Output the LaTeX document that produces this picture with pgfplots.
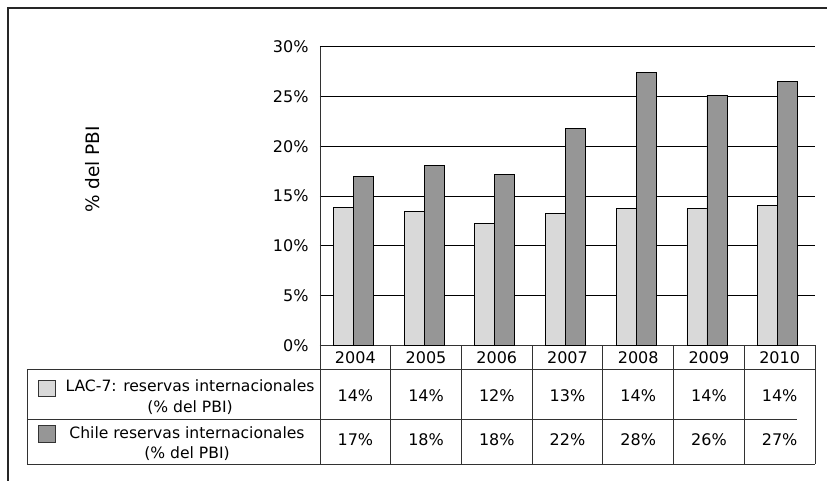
\documentclass[border=0pt]{standalone}
\usepackage{fontspec}
\setmainfont{DejaVu Sans}
\usepackage{pgfplots}
\pgfplotsset{compat=1.18}
\definecolor{lightbar}{RGB}{217,217,217}
\definecolor{darkbar}{RGB}{150,150,150}
\definecolor{tline}{RGB}{50,50,50}
\begin{document}
\begin{tikzpicture}[font=\fontsize{15.6}{20.7}\selectfont]
\path[use as bounding box] (-320pt,-135.7pt) rectangle (507pt,345.3pt);
\draw[line width=1.3pt, black!85] (-312pt,-140pt) -- (-312pt,337.3pt) -- (510pt,337.3pt);
\begin{axis}[
  scale only axis, width=495pt, height=298.6pt,
  xmin=-0.5, xmax=6.5, ymin=0, ymax=30,
  ybar=0pt, bar width=20pt,
  xtick={0,...,6}, xticklabels={2004,2005,2006,2007,2008,2009,2010},
  ytick={0,5,...,30},
  yticklabel={\pgfmathprintnumber{\tick}\%},
  /pgf/number format/assume math mode=true,
  tick label style={font=\fontsize{16}{19}\selectfont},
  ymajorgrids, grid style={black, line width=0.8pt},
  axis x line*=bottom, axis y line*=left,
  axis line style={tline, line width=0.8pt, -},
  major tick length=0pt,
  xticklabel style={anchor=center, yshift=-12pt},
  yticklabel style={xshift=-8pt},
  clip=false,
]
\addplot[fill=lightbar, draw=black, line width=0.7pt, bar shift=-12pt] coordinates {(0,13.86) (1,13.45) (2,12.25) (3,13.25) (4,13.75) (5,13.75) (6,14.09)};
\addplot[fill=darkbar, draw=black, line width=0.7pt, bar shift=8pt] coordinates {(0,16.93) (1,18.03) (2,17.17) (3,21.75) (4,27.44) (5,25.13) (6,26.54)};
\end{axis}
\begin{scope}[tline, line width=0.8pt]
\draw (-293pt,-24pt) -- (495pt,-24pt);
\draw (-293pt,-74pt) -- (477pt,-74pt);
\draw (-293pt,-119pt) -- (495pt,-119pt);
\draw (-293pt,-24pt) -- (-293pt,-119pt);
\foreach \k in {0,...,7} \draw ({\k*70.714pt},0pt) -- ({\k*70.714pt},-119pt);
\end{scope}
\begin{scope}[font=\fontsize{16}{19}\selectfont]
\foreach \v [count=\i from 0] in {14,14,12,13,14,14,14} \node at ({(\i+0.5)*70.714pt},-50.4pt) {\v\%};
\foreach \v [count=\i from 0] in {17,18,18,22,28,26,27} \node at ({(\i+0.5)*70.714pt},-94.7pt) {\v\%};
\end{scope}
\draw[black!80, line width=0.7pt, fill=lightbar] (-282pt,-34.7pt) rectangle (-265pt,-51.4pt);
\draw[black!80, line width=0.7pt, fill=darkbar] (-282pt,-79.7pt) rectangle (-265pt,-96.7pt);
\node[align=center] at (-130pt,-51.7pt) {LAC-7: reservas internacionales\\(\% del PBI)};
\node[align=center] at (-133pt,-98.4pt) {Chile reservas internacionales\\(\% del PBI)};
\node[rotate=90, font=\fontsize{18.5}{22}\selectfont] at (-227pt,176pt) {\% del PBI};
\end{tikzpicture}
\end{document}
